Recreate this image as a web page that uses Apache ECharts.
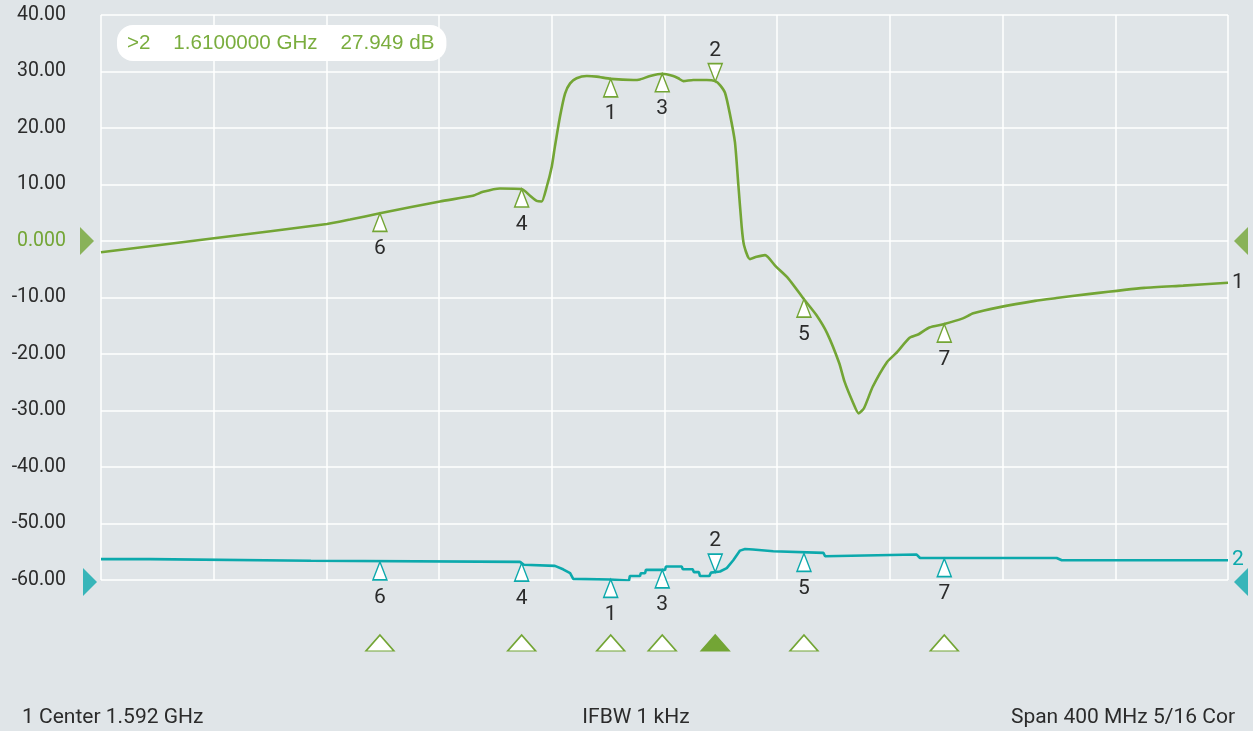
<!DOCTYPE html>
<html><head><meta charset="utf-8">
<script src="https://cdn.jsdelivr.net/npm/echarts@6/dist/echarts.min.js"></script>
<style>html,body{margin:0;padding:0;background:#e0e5e8;}#c{width:1253px;height:731px;}</style>
</head><body><div id="c"></div>
<script>
// ---- data (frequencies in MHz, levels in dB) ----
const CENTER_MHZ = 1592;
const SPAN_MHZ = 400;
const DIV_MHZ = 40;

const trace1Freq = [1392.0,1432.1,1472.2,1480.4,1491.0,1512.3,1524.0,1527.6,1533.6,1541.3,1544.3,1546.6,1548.4,1550.2,1552.0,1553.1,1554.9,1556.7,1558.5,1560.8,1564.4,1567.9,1572.9,1580.9,1583.3,1586.9,1591.2,1595.1,1596.9,1598.7,1602.2,1607.0,1610.0,1611.7,1613.5,1615.2,1617.0,1618.2,1619.4,1620.2,1622.3,1624.7,1627.7,1631.5,1635.9,1641.5,1645.9,1649.7,1654.0,1655.9,1659.0,1660.9,1662.8,1665.9,1671.0,1674.1,1679.1,1682.2,1686.0,1691.3,1697.9,1701.6,1711.0,1723.5,1731.1,1742.3,1762.3,1776.1,1792.0];
const trace1Db = [-2.0,0.5,3.0,3.8,4.9,7.0,8.0,8.7,9.3,9.2,8.0,7.1,7.0,9.6,13.2,16.7,22.0,26.1,27.9,28.8,29.2,29.1,28.7,28.5,28.6,29.2,29.6,29.2,28.8,28.3,28.5,28.5,28.3,27.6,26.2,22.5,17.5,10.0,2.5,-0.7,-3.2,-2.8,-2.5,-4.5,-6.6,-10.3,-13.1,-16.3,-21.6,-24.9,-28.7,-30.5,-29.6,-25.8,-21.4,-19.9,-17.1,-16.5,-15.3,-14.7,-13.7,-12.8,-11.7,-10.6,-10.1,-9.4,-8.3,-7.9,-7.4];

const trace2Freq = [1392.0,1409.4,1409.7,1466.5,1466.9,1540.7,1542.1,1553.1,1556.0,1558.5,1559.6,1572.7,1579.4,1579.7,1583.3,1583.6,1585.1,1585.4,1592.2,1592.5,1598.1,1598.5,1602.0,1602.4,1604.2,1604.6,1607.9,1608.5,1611.7,1614.1,1616.4,1618.8,1620.6,1623.4,1630.6,1648.4,1649.0,1681.5,1682.7,1731.2,1733.0,1792.0];
const trace2Db = [-56.3,-56.3,-56.6,-56.6,-56.8,-56.8,-57.3,-57.5,-58.1,-58.8,-59.8,-59.9,-60.1,-59.3,-59.3,-58.8,-58.8,-58.2,-58.2,-57.6,-57.6,-58.1,-58.1,-58.6,-58.6,-59.3,-59.3,-58.7,-58.5,-57.9,-56.5,-54.8,-54.5,-54.6,-54.9,-55.2,-55.8,-55.5,-56.1,-56.1,-56.5,-56.5];

const markerNames = ['6','4','1','3','2','5','7'];
const markerFreq = [1491.0,1541.3,1572.9,1591.2,1610.0,1641.5,1691.3];
const marker1Db = [4.9,9.2,28.7,29.6,28.2,-10.3,-14.7];
const marker2Db = [-56.8,-57.0,-59.9,-58.2,-58.6,-55.3,-56.2];
const activeMarker = '2';
const readout = '>2    1.6100000 GHz    27.949 dB';

const yMin = -60, yMax = 40, yStep = 10;
const refLevel1 = 0, refLevel2 = -60;
const footLeft = '1 Center 1.592 GHz';
const footMid = 'IFBW 1 kHz';
const footRight = 'Span 400 MHz 5/16 Cor';

// ---- styling ----
const GREEN = '#73a535';
const CYAN = '#0ca9ac';
const TXT = '#2b2b2b';
const FONT = 'Roboto';

const off = f => f - CENTER_MHZ;
const pts = (fs, vs) => fs.map((f, i) => [off(f), vs[i]]);

function markerData(values) {
  return markerNames.map((n, i) => {
    const active = n === activeMarker;
    return {
      name: n,
      value: [off(markerFreq[i]), values[i]],
      symbol: active ? 'path://M0,0 L14,0 L7,18 Z' : 'triangle',
      symbolOffset: active ? [0, -9] : [0, 9],
      label: { position: active ? 'top' : 'bottom', distance: active ? 2 : 6 }
    };
  });
}

const chart = echarts.init(document.getElementById('c'));
const half = SPAN_MHZ / 2;
chart.setOption({
  backgroundColor: '#e0e5e8',
  animation: false,
  textStyle: { fontFamily: FONT },
  title: [
    { text: readout, left: 117, top: 25, padding: [7, 12, 7, 10], backgroundColor: '#ffffff', borderRadius: 16,
      textStyle: { color: '#7aad3e', fontSize: 20.6, fontWeight: 300, fontFamily: 'Liberation Sans', lineHeight: 22 } },
    { text: footLeft, left: 22, top: 707, textStyle: { color: TXT, fontSize: 21, fontWeight: 'normal' }, padding: 0 },
    { text: footMid, left: 636, top: 707, textAlign: 'center', textStyle: { color: TXT, fontSize: 21, fontWeight: 'normal' }, padding: 0 },
    { text: footRight, right: 18, top: 707, textStyle: { color: TXT, fontSize: 21, fontWeight: 'normal' }, padding: 0 }
  ],
  grid: [
    { left: 101, top: 15, width: 1127, height: 565, containLabel: false },
    { left: 101, top: 635, width: 1127, height: 16, containLabel: false }
  ],
  xAxis: [
    { type: 'value', gridIndex: 0, min: -half, max: half, interval: DIV_MHZ,
      axisLine: { show: false }, axisTick: { show: false }, axisLabel: { show: false },
      splitLine: { show: true, lineStyle: { color: '#ffffff', width: 1.5 } } },
    { type: 'value', gridIndex: 1, min: -half, max: half, show: false }
  ],
  yAxis: [
    { type: 'value', gridIndex: 0, min: yMin, max: yMax, interval: yStep,
      axisLine: { show: false }, axisTick: { show: false },
      axisLabel: { margin: 35, fontSize: 19.5, color: TXT, fontFamily: FONT,
        formatter: v => v === refLevel1 ? '{g|0.000}' : v.toFixed(2),
        rich: { g: { color: GREEN, fontSize: 19.5, fontFamily: FONT } } },
      splitLine: { show: true, lineStyle: { color: '#ffffff', width: 1.5 } } },
    { type: 'value', gridIndex: 1, min: -1, max: 1, show: false }
  ],
  series: [
    { type: 'line', data: pts(trace1Freq, trace1Db), symbol: 'none', smooth: 0.2,
      lineStyle: { color: GREEN, width: 2.6 }, z: 3,
      endLabel: { show: true, formatter: '1', color: TXT, fontSize: 21, distance: 4 } },
    { type: 'line', data: pts(trace2Freq, trace2Db), symbol: 'none',
      lineStyle: { color: CYAN, width: 2.6 }, z: 3,
      endLabel: { show: true, formatter: '2', color: CYAN, fontSize: 21, distance: 4 } },
    { type: 'scatter', data: markerData(marker1Db), symbolSize: [14, 18], clip: false, z: 5,
      itemStyle: { color: '#ffffff', borderColor: GREEN, borderWidth: 1.5, opacity: 1 },
      label: { show: true, formatter: p => p.name, color: TXT, fontSize: 21 } },
    { type: 'scatter', data: markerData(marker2Db), symbolSize: [14, 18], clip: false, z: 5,
      itemStyle: { color: '#ffffff', borderColor: CYAN, borderWidth: 1.5, opacity: 1 },
      label: { show: true, formatter: p => p.name, color: TXT, fontSize: 21 } },
    // reference-level arrows
    { type: 'scatter', clip: false, z: 5, symbolSize: [14, 28],
      data: [
        { value: [-half, refLevel1], symbol: 'path://M0,0 L14,14 L0,28 Z', symbolOffset: [-14, 0], itemStyle: { color: GREEN } },
        { value: [half, refLevel1], symbol: 'path://M14,0 L0,14 L14,28 Z', symbolOffset: [13, 0], itemStyle: { color: GREEN } },
        { value: [-half, refLevel2], symbol: 'path://M0,0 L14,14 L0,28 Z', symbolOffset: [-11, 2], itemStyle: { color: CYAN } },
        { value: [half, refLevel2], symbol: 'path://M14,0 L0,14 L14,28 Z', symbolOffset: [13, 2], itemStyle: { color: CYAN } }
      ] },
    // marker bar under the plot
    { type: 'scatter', xAxisIndex: 1, yAxisIndex: 1, symbol: 'triangle', symbolSize: [28, 16], clip: false,
      data: markerNames.map((n, i) => ({ name: n, value: [off(markerFreq[i]), 0],
        itemStyle: n === activeMarker ? { color: GREEN, borderColor: GREEN } : {} })),
      itemStyle: { color: '#ffffff', borderColor: GREEN, borderWidth: 1.5, opacity: 1 } }
  ]
});
</script></body></html>
